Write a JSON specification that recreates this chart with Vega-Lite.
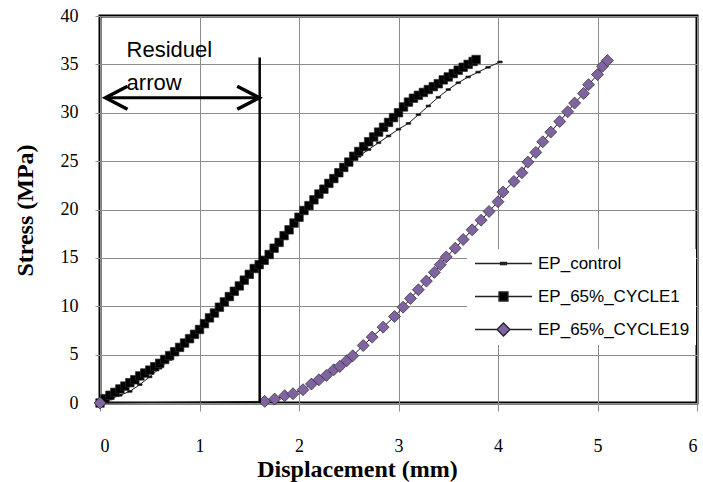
{
  "$schema": "https://vega.github.io/schema/vega-lite/v6.json",
  "width": 597,
  "height": 387,
  "autosize": {"type": "none"},
  "padding": {"left": 100, "top": 16, "right": 6, "bottom": 79},
  "background": "white",
  "config": {
    "view": {"stroke": "#000", "strokeWidth": 3},
    "axis": {
      "domain": false,
      "grid": true,
      "gridColor": "#8c8c8c",
      "gridWidth": 1,
      "tickColor": "#8c8c8c",
      "labelFont": "Liberation Serif",
      "labelFontSize": 18,
      "labelColor": "#000",
      "titleFont": "Liberation Serif",
      "titleFontSize": 24,
      "titleFontWeight": "bold",
      "titleColor": "#000"
    }
  },
  "datasets": {
    "curves": [
      {"series": "EP_control", "x": 0, "y": 0},
      {"series": "EP_control", "x": 0.1, "y": 0.4},
      {"series": "EP_control", "x": 0.2, "y": 0.8},
      {"series": "EP_control", "x": 0.3, "y": 1.2},
      {"series": "EP_control", "x": 0.4, "y": 1.9},
      {"series": "EP_control", "x": 0.5, "y": 2.7},
      {"series": "EP_control", "x": 0.6, "y": 3.6},
      {"series": "EP_control", "x": 0.7, "y": 4.5},
      {"series": "EP_control", "x": 0.8, "y": 5.5},
      {"series": "EP_control", "x": 0.9, "y": 6.5},
      {"series": "EP_control", "x": 1.0, "y": 7.5},
      {"series": "EP_control", "x": 1.1, "y": 8.7},
      {"series": "EP_control", "x": 1.2, "y": 9.8},
      {"series": "EP_control", "x": 1.3, "y": 10.9},
      {"series": "EP_control", "x": 1.4, "y": 12.0},
      {"series": "EP_control", "x": 1.5, "y": 13.2},
      {"series": "EP_control", "x": 1.6, "y": 14.3},
      {"series": "EP_control", "x": 1.7, "y": 15.3},
      {"series": "EP_control", "x": 1.8, "y": 16.5},
      {"series": "EP_control", "x": 1.9, "y": 17.8},
      {"series": "EP_control", "x": 2.0, "y": 19.1},
      {"series": "EP_control", "x": 2.1, "y": 20.3},
      {"series": "EP_control", "x": 2.2, "y": 21.5},
      {"series": "EP_control", "x": 2.3, "y": 22.6},
      {"series": "EP_control", "x": 2.4, "y": 23.7},
      {"series": "EP_control", "x": 2.5, "y": 24.7},
      {"series": "EP_control", "x": 2.6, "y": 25.5},
      {"series": "EP_control", "x": 2.7, "y": 26.2},
      {"series": "EP_control", "x": 2.8, "y": 26.9},
      {"series": "EP_control", "x": 2.9, "y": 27.6},
      {"series": "EP_control", "x": 3.0, "y": 28.3},
      {"series": "EP_control", "x": 3.1, "y": 28.9},
      {"series": "EP_control", "x": 3.2, "y": 29.8},
      {"series": "EP_control", "x": 3.3, "y": 30.7},
      {"series": "EP_control", "x": 3.4, "y": 31.6},
      {"series": "EP_control", "x": 3.5, "y": 32.4},
      {"series": "EP_control", "x": 3.6, "y": 33.1},
      {"series": "EP_control", "x": 3.7, "y": 33.7},
      {"series": "EP_control", "x": 3.8, "y": 34.2},
      {"series": "EP_control", "x": 3.9, "y": 34.7},
      {"series": "EP_control", "x": 4.02, "y": 35.25},
      {"series": "EP_65%_CYCLE1", "x": 0.0, "y": 0.0},
      {"series": "EP_65%_CYCLE1", "x": 0.05, "y": 0.45},
      {"series": "EP_65%_CYCLE1", "x": 0.1, "y": 0.8},
      {"series": "EP_65%_CYCLE1", "x": 0.15, "y": 1.1},
      {"series": "EP_65%_CYCLE1", "x": 0.2, "y": 1.45},
      {"series": "EP_65%_CYCLE1", "x": 0.25, "y": 1.75},
      {"series": "EP_65%_CYCLE1", "x": 0.3, "y": 2.1},
      {"series": "EP_65%_CYCLE1", "x": 0.35, "y": 2.4},
      {"series": "EP_65%_CYCLE1", "x": 0.4, "y": 2.8},
      {"series": "EP_65%_CYCLE1", "x": 0.45, "y": 3.1},
      {"series": "EP_65%_CYCLE1", "x": 0.5, "y": 3.4},
      {"series": "EP_65%_CYCLE1", "x": 0.55, "y": 3.75},
      {"series": "EP_65%_CYCLE1", "x": 0.6, "y": 4.1},
      {"series": "EP_65%_CYCLE1", "x": 0.65, "y": 4.5},
      {"series": "EP_65%_CYCLE1", "x": 0.7, "y": 4.9},
      {"series": "EP_65%_CYCLE1", "x": 0.75, "y": 5.3},
      {"series": "EP_65%_CYCLE1", "x": 0.8, "y": 5.75},
      {"series": "EP_65%_CYCLE1", "x": 0.85, "y": 6.2},
      {"series": "EP_65%_CYCLE1", "x": 0.9, "y": 6.65},
      {"series": "EP_65%_CYCLE1", "x": 0.95, "y": 7.1},
      {"series": "EP_65%_CYCLE1", "x": 1.0, "y": 7.6},
      {"series": "EP_65%_CYCLE1", "x": 1.05, "y": 8.2},
      {"series": "EP_65%_CYCLE1", "x": 1.1, "y": 8.8},
      {"series": "EP_65%_CYCLE1", "x": 1.15, "y": 9.3},
      {"series": "EP_65%_CYCLE1", "x": 1.2, "y": 9.9},
      {"series": "EP_65%_CYCLE1", "x": 1.25, "y": 10.45},
      {"series": "EP_65%_CYCLE1", "x": 1.3, "y": 11.0},
      {"series": "EP_65%_CYCLE1", "x": 1.35, "y": 11.55},
      {"series": "EP_65%_CYCLE1", "x": 1.4, "y": 12.1},
      {"series": "EP_65%_CYCLE1", "x": 1.45, "y": 12.7},
      {"series": "EP_65%_CYCLE1", "x": 1.5, "y": 13.3},
      {"series": "EP_65%_CYCLE1", "x": 1.55, "y": 13.9},
      {"series": "EP_65%_CYCLE1", "x": 1.6, "y": 14.3},
      {"series": "EP_65%_CYCLE1", "x": 1.65, "y": 14.75},
      {"series": "EP_65%_CYCLE1", "x": 1.7, "y": 15.35},
      {"series": "EP_65%_CYCLE1", "x": 1.75, "y": 16.0},
      {"series": "EP_65%_CYCLE1", "x": 1.8, "y": 16.6},
      {"series": "EP_65%_CYCLE1", "x": 1.85, "y": 17.3},
      {"series": "EP_65%_CYCLE1", "x": 1.9, "y": 17.9},
      {"series": "EP_65%_CYCLE1", "x": 1.95, "y": 18.6},
      {"series": "EP_65%_CYCLE1", "x": 2.0, "y": 19.2},
      {"series": "EP_65%_CYCLE1", "x": 2.05, "y": 19.9},
      {"series": "EP_65%_CYCLE1", "x": 2.1, "y": 20.4},
      {"series": "EP_65%_CYCLE1", "x": 2.15, "y": 21.0},
      {"series": "EP_65%_CYCLE1", "x": 2.2, "y": 21.6},
      {"series": "EP_65%_CYCLE1", "x": 2.25, "y": 22.1},
      {"series": "EP_65%_CYCLE1", "x": 2.3, "y": 22.7},
      {"series": "EP_65%_CYCLE1", "x": 2.35, "y": 23.2},
      {"series": "EP_65%_CYCLE1", "x": 2.4, "y": 23.8},
      {"series": "EP_65%_CYCLE1", "x": 2.45, "y": 24.35},
      {"series": "EP_65%_CYCLE1", "x": 2.5, "y": 24.9},
      {"series": "EP_65%_CYCLE1", "x": 2.55, "y": 25.5},
      {"series": "EP_65%_CYCLE1", "x": 2.6, "y": 26.0},
      {"series": "EP_65%_CYCLE1", "x": 2.65, "y": 26.5},
      {"series": "EP_65%_CYCLE1", "x": 2.7, "y": 27.0},
      {"series": "EP_65%_CYCLE1", "x": 2.75, "y": 27.5},
      {"series": "EP_65%_CYCLE1", "x": 2.8, "y": 28.0},
      {"series": "EP_65%_CYCLE1", "x": 2.85, "y": 28.5},
      {"series": "EP_65%_CYCLE1", "x": 2.9, "y": 29.0},
      {"series": "EP_65%_CYCLE1", "x": 2.95, "y": 29.5},
      {"series": "EP_65%_CYCLE1", "x": 3.0, "y": 30.0},
      {"series": "EP_65%_CYCLE1", "x": 3.05, "y": 30.6},
      {"series": "EP_65%_CYCLE1", "x": 3.1, "y": 31.1},
      {"series": "EP_65%_CYCLE1", "x": 3.15, "y": 31.5},
      {"series": "EP_65%_CYCLE1", "x": 3.2, "y": 31.8},
      {"series": "EP_65%_CYCLE1", "x": 3.25, "y": 32.1},
      {"series": "EP_65%_CYCLE1", "x": 3.3, "y": 32.4},
      {"series": "EP_65%_CYCLE1", "x": 3.35, "y": 32.7},
      {"series": "EP_65%_CYCLE1", "x": 3.4, "y": 33.0},
      {"series": "EP_65%_CYCLE1", "x": 3.45, "y": 33.4},
      {"series": "EP_65%_CYCLE1", "x": 3.5, "y": 33.7},
      {"series": "EP_65%_CYCLE1", "x": 3.55, "y": 34.05},
      {"series": "EP_65%_CYCLE1", "x": 3.6, "y": 34.4},
      {"series": "EP_65%_CYCLE1", "x": 3.65, "y": 34.7},
      {"series": "EP_65%_CYCLE1", "x": 3.7, "y": 35.0},
      {"series": "EP_65%_CYCLE1", "x": 3.75, "y": 35.3},
      {"series": "EP_65%_CYCLE1", "x": 3.78, "y": 35.5},
      {"series": "EP_65%_CYCLE19", "x": 0, "y": 0},
      {"series": "EP_65%_CYCLE19", "x": 1.655, "y": 0.17},
      {"series": "EP_65%_CYCLE19", "x": 1.755, "y": 0.41},
      {"series": "EP_65%_CYCLE19", "x": 1.856, "y": 0.75},
      {"series": "EP_65%_CYCLE19", "x": 1.94, "y": 0.96},
      {"series": "EP_65%_CYCLE19", "x": 2.04, "y": 1.37},
      {"series": "EP_65%_CYCLE19", "x": 2.125, "y": 1.96},
      {"series": "EP_65%_CYCLE19", "x": 2.2, "y": 2.4},
      {"series": "EP_65%_CYCLE19", "x": 2.275, "y": 2.85},
      {"series": "EP_65%_CYCLE19", "x": 2.35, "y": 3.44},
      {"series": "EP_65%_CYCLE19", "x": 2.41, "y": 3.78},
      {"series": "EP_65%_CYCLE19", "x": 2.48, "y": 4.37},
      {"series": "EP_65%_CYCLE19", "x": 2.54, "y": 4.88},
      {"series": "EP_65%_CYCLE19", "x": 2.645, "y": 5.94},
      {"series": "EP_65%_CYCLE19", "x": 2.735, "y": 6.81},
      {"series": "EP_65%_CYCLE19", "x": 2.845, "y": 7.84},
      {"series": "EP_65%_CYCLE19", "x": 2.96, "y": 8.94},
      {"series": "EP_65%_CYCLE19", "x": 3.046, "y": 9.9},
      {"series": "EP_65%_CYCLE19", "x": 3.12, "y": 10.8},
      {"series": "EP_65%_CYCLE19", "x": 3.2, "y": 11.7},
      {"series": "EP_65%_CYCLE19", "x": 3.28, "y": 12.6},
      {"series": "EP_65%_CYCLE19", "x": 3.36, "y": 13.5},
      {"series": "EP_65%_CYCLE19", "x": 3.42, "y": 14.3},
      {"series": "EP_65%_CYCLE19", "x": 3.48, "y": 15.1},
      {"series": "EP_65%_CYCLE19", "x": 3.57, "y": 16.0},
      {"series": "EP_65%_CYCLE19", "x": 3.65, "y": 16.9},
      {"series": "EP_65%_CYCLE19", "x": 3.74, "y": 17.9},
      {"series": "EP_65%_CYCLE19", "x": 3.83, "y": 18.9},
      {"series": "EP_65%_CYCLE19", "x": 3.91, "y": 19.8},
      {"series": "EP_65%_CYCLE19", "x": 4.0, "y": 20.8},
      {"series": "EP_65%_CYCLE19", "x": 4.05, "y": 21.8},
      {"series": "EP_65%_CYCLE19", "x": 4.16, "y": 22.9},
      {"series": "EP_65%_CYCLE19", "x": 4.24, "y": 23.8},
      {"series": "EP_65%_CYCLE19", "x": 4.3, "y": 24.9},
      {"series": "EP_65%_CYCLE19", "x": 4.38, "y": 25.9},
      {"series": "EP_65%_CYCLE19", "x": 4.45, "y": 27.0},
      {"series": "EP_65%_CYCLE19", "x": 4.53, "y": 28.0},
      {"series": "EP_65%_CYCLE19", "x": 4.62, "y": 29.1},
      {"series": "EP_65%_CYCLE19", "x": 4.7, "y": 30.1},
      {"series": "EP_65%_CYCLE19", "x": 4.77, "y": 31.0},
      {"series": "EP_65%_CYCLE19", "x": 4.86, "y": 32.0},
      {"series": "EP_65%_CYCLE19", "x": 4.91, "y": 32.9},
      {"series": "EP_65%_CYCLE19", "x": 5.0, "y": 33.95},
      {"series": "EP_65%_CYCLE19", "x": 5.05, "y": 34.8},
      {"series": "EP_65%_CYCLE19", "x": 5.1, "y": 35.4}
    ]
  },
  "encoding": {
    "x": {
      "field": "x",
      "type": "quantitative",
      "scale": {"domain": [0, 6], "nice": false, "zero": false},
      "axis": {
        "values": [0, 1, 2, 3, 4, 5, 6],
        "format": "d",
        "tickSize": 8,
        "labelBaseline": "alphabetic",
        "labelPadding": 40,
        "title": "Displacement (mm)",
        "titleX": 257,
        "titleY": 73,
        "titleAlign": "center",
        "titleBaseline": "alphabetic"
      }
    },
    "y": {
      "field": "y",
      "type": "quantitative",
      "scale": {"domain": [0, 40], "nice": false, "zero": false},
      "axis": {
        "values": [0, 5, 10, 15, 20, 25, 30, 35, 40],
        "format": "d",
        "tickSize": 5,
        "labelPadding": 17,
        "title": "Stress (MPa)",
        "titleX": -68,
        "titleY": 194,
        "titleAngle": -90,
        "titleAlign": "center",
        "titleBaseline": "alphabetic"
      }
    }
  },
  "layer": [
    {
      "data": {"name": "curves"},
      "mark": {"type": "line", "color": "#1a1a1a", "strokeWidth": 1},
      "encoding": {"detail": {"field": "series", "type": "nominal"}}
    },
    {
      "data": {"name": "curves"},
      "mark": {"type": "point", "filled": true, "opacity": 1, "size": 100, "stroke": "#2a2a2a", "strokeWidth": 0.7},
      "encoding": {
        "shape": {
          "condition": [
            {"test": "datum.series === 'EP_control'", "value": "M-0.45,-0.18H0.45V0.18H-0.45Z"},
            {"test": "datum.series === 'EP_65%_CYCLE1'", "value": "M-0.85,-0.85H0.85V0.85H-0.85Z"}
          ],
          "value": "M0,-1.2L1.2,0L0,1.2L-1.2,0Z"
        },
        "fill": {
          "condition": {"test": "datum.series === 'EP_65%_CYCLE19'", "value": "#8064A2"},
          "value": "#000000"
        }
      }
    },
    {
      "data": {"name": "curves"},
      "mark": {"type": "point", "filled": true, "opacity": 0, "size": 100, "stroke": "#222222", "strokeWidth": 1.3},
      "encoding": {
        "shape": {
          "field": "series",
          "type": "nominal",
          "scale": {
            "domain": ["EP_control", "EP_65%_CYCLE1", "EP_65%_CYCLE19"],
            "range": [
              "M-5.7,0H5.7M-0.6,-0.2H0.6V0.2H-0.6Z",
              "M-5.7,0H-0.9M0.9,0H5.7M-0.9,-0.9H0.9V0.9H-0.9Z",
              "M-5.7,0H-1.3M1.3,0H5.7M0,-1.3L1.3,0L0,1.3L-1.3,0Z"
            ]
          },
          "legend": {
            "title": null,
            "orient": "none",
            "legendX": 367,
            "legendY": 233,
            "padding": 6,
            "fillColor": "white",
            "labelFont": "Liberation Sans",
            "labelFontSize": 17,
            "labelColor": "#000",
            "labelLimit": 300,
            "symbolSize": 100,
            "symbolOpacity": 1,
            "symbolStrokeWidth": 1.3,
            "symbolOffset": 22,
            "labelOffset": 26,
            "rowPadding": 15
          }
        },
        "fill": {
          "field": "series",
          "type": "nominal",
          "scale": {
            "domain": ["EP_control", "EP_65%_CYCLE1", "EP_65%_CYCLE19"],
            "range": ["#000000", "#000000", "#8064A2"]
          },
          "legend": {
            "title": null,
            "orient": "none",
            "legendX": 367,
            "legendY": 233,
            "padding": 6,
            "fillColor": "white",
            "labelFont": "Liberation Sans",
            "labelFontSize": 17,
            "labelColor": "#000",
            "labelLimit": 300,
            "symbolSize": 100,
            "symbolOpacity": 1,
            "symbolStrokeWidth": 1.3,
            "symbolOffset": 22,
            "labelOffset": 26,
            "rowPadding": 15
          }
        }
      }
    },
    {
      "data": {"values": [{"x": 1.605, "y": 0, "y2": 35.7}]},
      "mark": {"type": "rule", "color": "#000", "strokeWidth": 2.5},
      "encoding": {"y2": {"field": "y2"}}
    },
    {
      "data": {"values": [{"x": 0.055, "x2": 1.6, "y": 31.55}]},
      "mark": {"type": "rule", "color": "#000", "strokeWidth": 3},
      "encoding": {"x2": {"field": "x2"}}
    },
    {
      "data": {"values": [{"x": 0.055, "y": 31.55}]},
      "mark": {"type": "point", "shape": "M2,-1.05L0,0L2,1.05", "size": 484, "filled": false, "stroke": "#000", "strokeWidth": 3.5, "opacity": 1}
    },
    {
      "data": {"values": [{"x": 1.6, "y": 31.55}]},
      "mark": {"type": "point", "shape": "M-2,-1.05L0,0L-2,1.05", "size": 484, "filled": false, "stroke": "#000", "strokeWidth": 3.5, "opacity": 1}
    },
    {
      "data": {"values": [{"x": 0.267, "y": 35.77, "label": "Residuel"}, {"x": 0.267, "y": 32.33, "label": "arrow"}]},
      "mark": {"type": "text", "align": "left", "baseline": "alphabetic", "font": "Liberation Sans", "fontSize": 22, "color": "#000"},
      "encoding": {"text": {"field": "label"}}
    }
  ]
}
